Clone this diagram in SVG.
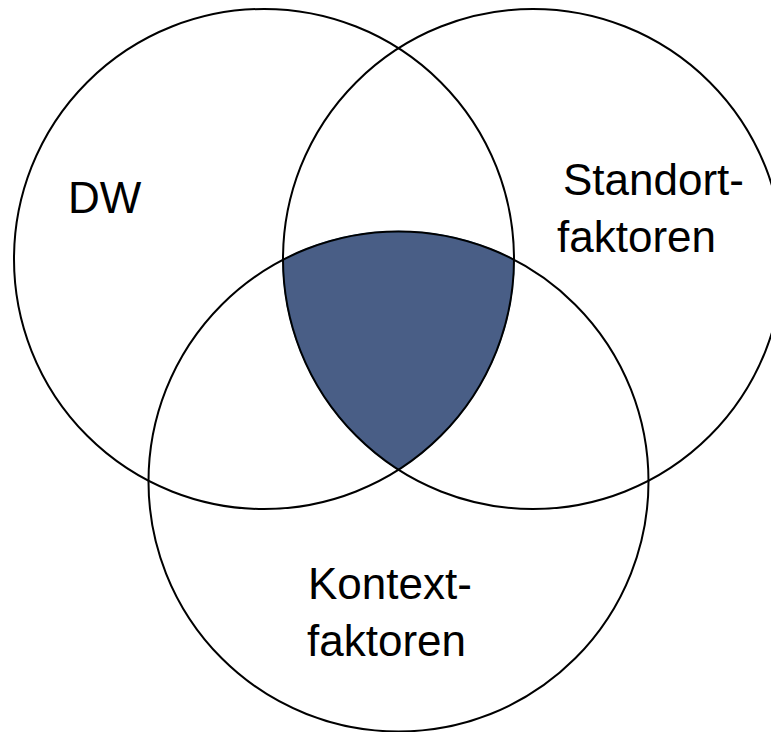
<svg xmlns="http://www.w3.org/2000/svg" width="771" height="732" viewBox="0 0 771 732">
  <style>
    .ring { fill: none; stroke: #000; stroke-width: 2; }
    .label { font-family: "Liberation Sans", Arial, sans-serif; font-size: 44px; fill: #000; }
    .core { fill: #495E86; stroke: #2E75B6; stroke-width: 1.5; }
  </style>
  <rect width="771" height="732" fill="#fff"/>
  <!-- common intersection of all three sets -->
  <g id="overlap">
    <path class="core" d="M283.05,259.85 A250,250 0 0 1 513.95,259.85 A250,250 0 0 1 398.5,469.7 A250,250 0 0 1 283.05,259.85 Z"/>
  </g>
  <g id="dw">
    <circle class="ring" cx="264" cy="259" r="250"/>
    <text class="label" x="68" y="213">DW</text>
  </g>
  <g id="standortfaktoren">
    <circle class="ring" cx="533" cy="259" r="250"/>
    <text class="label" x="563" y="195">Standort-</text>
    <text class="label" x="557" y="252">faktoren</text>
  </g>
  <g id="kontextfaktoren">
    <circle class="ring" cx="398.5" cy="481.5" r="250"/>
    <text class="label" x="308" y="599">Kontext-</text>
    <text class="label" x="307" y="656">faktoren</text>
  </g>
</svg>
